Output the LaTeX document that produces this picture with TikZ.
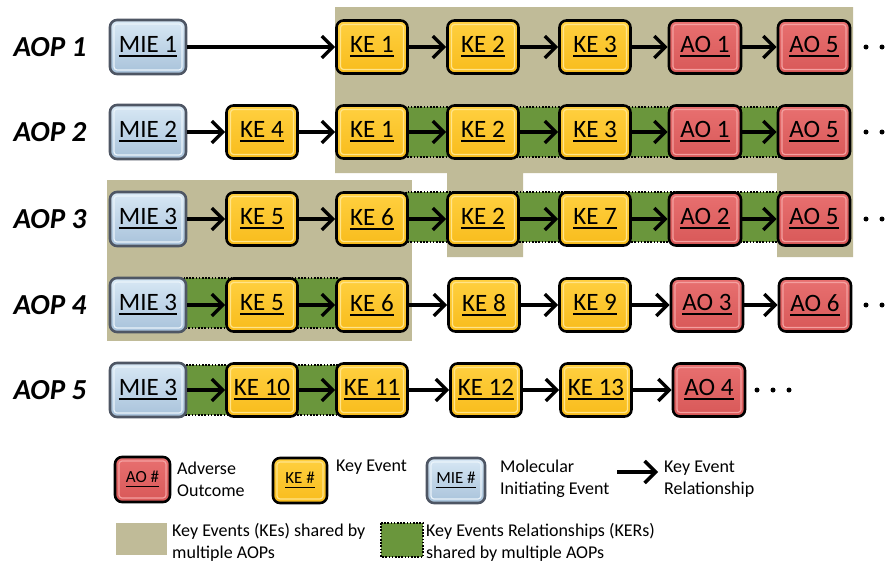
\documentclass[tikz,border=0pt]{standalone}
\usepackage{fontspec}
\setmainfont{Carlito}
\usetikzlibrary{arrows.meta}
\definecolor{tanc}{HTML}{C0BB98}
\definecolor{kerg}{HTML}{6A963C}
\definecolor{keTop}{HTML}{FFD040}
\definecolor{keBot}{HTML}{F8BC1C}
\definecolor{keIn}{HTML}{FFE48A}
\definecolor{aoTop}{HTML}{E87070}
\definecolor{aoBot}{HTML}{D85858}
\definecolor{aoIn}{HTML}{F4A0A0}
\definecolor{mieTop}{HTML}{D8E8F5}
\definecolor{mieBot}{HTML}{A8C2DA}
\definecolor{mieIn}{HTML}{EAF3FA}
\definecolor{mieEdge}{HTML}{4E5664}
\newcommand\myul[1]{\leavevmode\setbox0=\hbox{#1}\rlap{\rule[-4.5pt]{\wd0}{1.9pt}}\box0}
\tikzset{
  base/.style={rounded corners=7pt, line width=2.6pt, inner sep=0pt,
    font=\fontsize{25}{28}\selectfont, minimum height=53pt},
  inner/.style={path picture={\draw[#1, line width=1.2pt, rounded corners=3pt]
    ([shift={(4pt,-4pt)}]path picture bounding box.north west) rectangle
    ([shift={(-4pt,4pt)}]path picture bounding box.south east);}},
  kebox/.style={base, minimum width=71pt, draw=black, top color=keTop, bottom color=keBot, inner=keIn},
  aobox/.style={base, minimum width=72pt, draw=black, top color=aoTop, bottom color=aoBot, inner=aoIn},
  miebox/.style={base, minimum width=76pt, minimum height=54pt, draw=mieEdge, top color=mieTop, bottom color=mieBot, inner=mieIn},
  aoplabel/.style={font=\fontsize{29}{32}\selectfont\bfseries\itshape},
  kerband/.style={fill=kerg, draw=black, line width=1.6pt, dash pattern=on 1.6pt off 1.6pt},
  rel/.style={line width=3.4pt, -{Straight Barb[length=11pt,width=22pt]}},
  legtext/.style={anchor=west, align=left, inner sep=0pt, font=\fontsize{18}{22}\selectfont},
  legbox/.style={minimum height=45pt, font=\fontsize{17}{18}\selectfont},
  dot/.style={fill=black, circle, inner sep=0pt, minimum size=5pt}
}
\begin{document}
\begin{tikzpicture}[x=1pt,y=-1pt]
\useasboundingbox (0,0) rectangle (893,562);
\clip (0,0) rectangle (893,562);
% shared KE regions
\fill[tanc] (335,7) -- (853,7) -- (853,257) -- (777,257) -- (777,173) -- (523,173)
  -- (523,257) -- (447,257) -- (447,173) -- (335,173) -- cycle;
\fill[tanc] (107,180) rectangle (412,341);
% shared KER bands
\path[kerband] (406,107) rectangle (780,157);
\path[kerband] (406,192) rectangle (780,242);
\path[kerband] (184,278) rectangle (339,328);
\path[kerband] (184,365) rectangle (339,415);
% labels
\node[aoplabel] (l1) at (50,47) {AOP 1};
\node[aoplabel] (l2) at (50,132) {AOP 2};
\node[aoplabel] (l3) at (50,219) {AOP 3};
\node[aoplabel] (l4) at (50,305) {AOP 4};
\node[aoplabel] (l5) at (50,390) {AOP 5};
% row 1
\node[miebox] (a0) at (148,47) {\myul{MIE 1}};
\node[kebox] (a2) at (372,47) {\myul{KE 1}};
\node[kebox] (a3) at (483,47) {\myul{KE 2}};
\node[kebox] (a4) at (595,47) {\myul{KE 3}};
\node[aobox] (a5) at (705,47) {\myul{AO 1}};
\node[aobox] (a6) at (814,47) {\myul{AO 5}};
\draw[rel] (a0) -- (a2); \draw[rel] (a2) -- (a3); \draw[rel] (a3) -- (a4);
\draw[rel] (a4) -- (a5); \draw[rel] (a5) -- (a6);
% row 2
\node[miebox] (b0) at (148,132) {\myul{MIE 2}};
\node[kebox] (b1) at (262,132) {\myul{KE 4}};
\node[kebox] (b2) at (372,132) {\myul{KE 1}};
\node[kebox] (b3) at (483,132) {\myul{KE 2}};
\node[kebox] (b4) at (595,132) {\myul{KE 3}};
\node[aobox] (b5) at (705,132) {\myul{AO 1}};
\node[aobox] (b6) at (814,132) {\myul{AO 5}};
\draw[rel] (b0) -- (b1); \draw[rel] (b1) -- (b2); \draw[rel] (b2) -- (b3);
\draw[rel] (b3) -- (b4); \draw[rel] (b4) -- (b5); \draw[rel] (b5) -- (b6);
% row 3
\node[miebox] (c0) at (148,219) {\myul{MIE 3}};
\node[kebox] (c1) at (262,219) {\myul{KE 5}};
\node[kebox] (c2) at (372,219) {\myul{KE 6}};
\node[kebox] (c3) at (483,219) {\myul{KE 2}};
\node[kebox] (c4) at (595,219) {\myul{KE 7}};
\node[aobox] (c5) at (705,219) {\myul{AO 2}};
\node[aobox] (c6) at (814,219) {\myul{AO 5}};
\draw[rel] (c0) -- (c1); \draw[rel] (c1) -- (c2); \draw[rel] (c2) -- (c3);
\draw[rel] (c3) -- (c4); \draw[rel] (c4) -- (c5); \draw[rel] (c5) -- (c6);
% row 4
\node[miebox] (d0) at (148,305) {\myul{MIE 3}};
\node[kebox] (d1) at (262,305) {\myul{KE 5}};
\node[kebox] (d2) at (372,305) {\myul{KE 6}};
\node[kebox] (d3) at (484,305) {\myul{KE 8}};
\node[kebox] (d4) at (595,305) {\myul{KE 9}};
\node[aobox] (d5) at (707,305) {\myul{AO 3}};
\node[aobox] (d6) at (815,305) {\myul{AO 6}};
\draw[rel] (d0) -- (d1); \draw[rel] (d1) -- (d2); \draw[rel] (d2) -- (d3);
\draw[rel] (d3) -- (d4); \draw[rel] (d4) -- (d5); \draw[rel] (d5) -- (d6);
% row 5
\node[miebox] (e0) at (148,390) {\myul{MIE 3}};
\node[kebox] (e1) at (262,390) {\myul{KE 10}};
\node[kebox] (e2) at (372,390) {\myul{KE 11}};
\node[kebox] (e3) at (486,390) {\myul{KE 12}};
\node[kebox] (e4) at (596,390) {\myul{KE 13}};
\node[aobox] (e5) at (709,390) {\myul{AO 4}};
\draw[rel] (e0) -- (e1); \draw[rel] (e1) -- (e2); \draw[rel] (e2) -- (e3);
\draw[rel] (e3) -- (e4); \draw[rel] (e4) -- (e5);
% continuation dots
\foreach \y/\n in {47/1,132/2,219/3,305/4}{
  \node[dot] (p\n a) at (866,\y) {};
  \node[dot] (p\n b) at (882,\y) {};
  \node[dot] (p\n c) at (898,\y) {};
}
\node[dot] (q1) at (757,390) {};
\node[dot] (q2) at (773,390) {};
\node[dot] (q3) at (789,390) {};
% legend
\node[aobox, legbox, minimum width=55pt] (lao) at (142.5,479.5) {\myul{AO \#}};
\node[legtext] (tao) at (177,479) {Adverse\\Outcome};
\node[kebox, legbox, minimum width=54pt] (lke) at (300,480.5) {\myul{KE \#}};
\node[legtext, anchor=north west] (tke) at (336,460) {Key Event};
\node[miebox, legbox, minimum width=58pt] (lmie) at (456,480.5) {\myul{MIE \#}};
\node[legtext] (tmie) at (500,479) {Molecular\\Initiating Event};
\coordinate (la1) at (617,472);
\coordinate (la2) at (658,472);
\draw[rel] (la1) -- (la2);
\node[legtext] (trel) at (664,479) {Key Event\\Relationship};
\fill[tanc] (116,523) rectangle (167,555);
\node[legtext] (ttan) at (172,542) {Key Events (KEs) shared by\\multiple AOPs};
\path[kerband] (381,523) rectangle (423,557);
\node[legtext] (tker) at (426,542) {Key Events Relationships (KERs)\\shared by multiple AOPs};
\end{tikzpicture}
\end{document}
